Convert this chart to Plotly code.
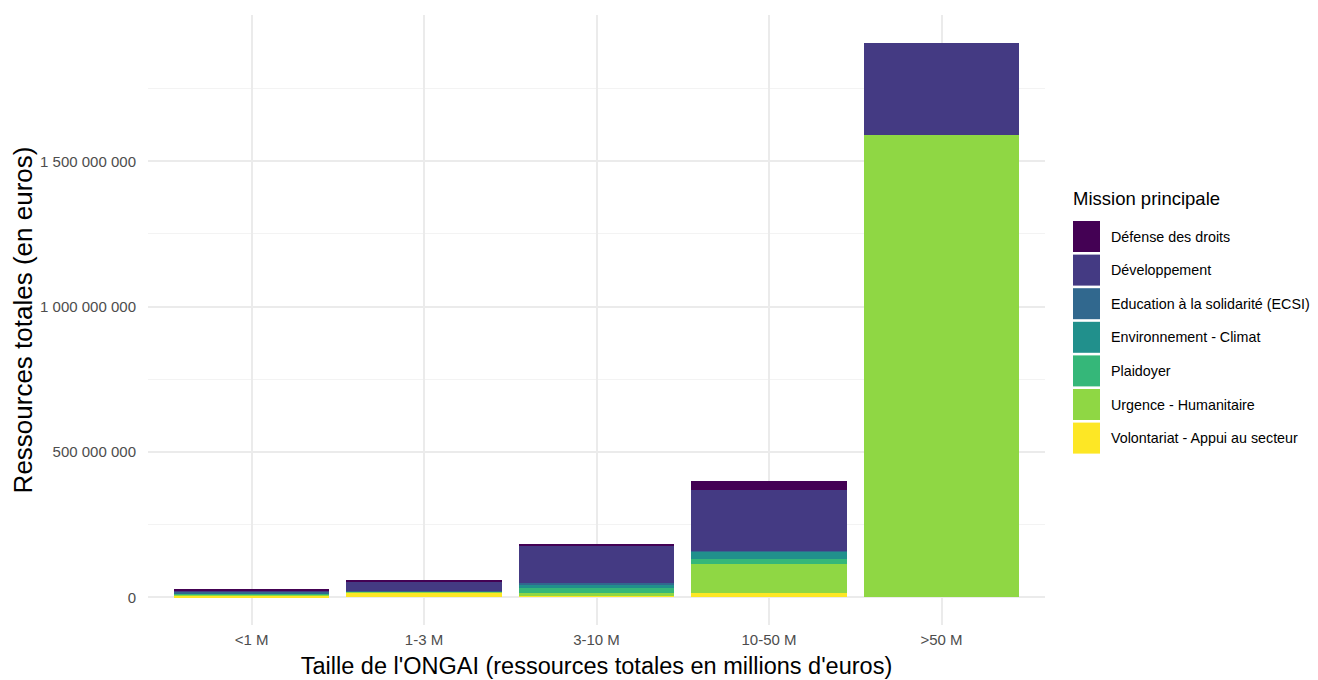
import plotly.graph_objects as go

categories = ["<1 M", "1-3 M", "3-10 M", "10-50 M", ">50 M"]
missions = [
    "Défense des droits",
    "Développement",
    "Education à la solidarité (ECSI)",
    "Environnement - Climat",
    "Plaidoyer",
    "Urgence - Humanitaire",
    "Volontariat - Appui au secteur",
]
colors = ["#440154", "#443A83", "#31688E", "#21908C", "#35B779", "#8FD744", "#FDE725"]

# values in euros, per mission, per size category
defense = [3.5e6, 3.5e6, 7e6, 31e6, 0]
developpement = [6e6, 31e6, 127e6, 210e6, 317e6]
ecsi = [5e6, 0.5e6, 7e6, 0.5e6, 0]
environnement = [2e6, 0.5e6, 11e6, 27.5e6, 0]
plaidoyer = [4e6, 2e6, 19.5e6, 14e6, 0]
urgence = [3e6, 2.5e6, 6e6, 103e6, 1591e6]
volontariat = [5e6, 16.5e6, 7e6, 13e6, 0]
series = [defense, developpement, ecsi, environnement, plaidoyer, urgence, volontariat]

ytick_vals = [0, 500e6, 1000e6, 1500e6]
ytick_text = ["0", "500 000 000", "1 000 000 000", "1 500 000 000"]
yminor_vals = [250e6, 750e6, 1250e6, 1750e6]

FONT = "Liberation Sans"
fig = go.Figure()
# ggplot stacks first level on top: add in reverse
for name, vals, col in reversed(list(zip(missions, series, colors))):
    fig.add_trace(go.Bar(x=categories, y=vals, name=name, marker=dict(color=col, line=dict(width=0)),
                         showlegend=False))

OFF = 8  # page body margin
W, H = 1318 - OFF, 680 - OFF
L, R, T, B = 148 - OFF, W - (1045 - OFF), 15 - OFF, H - (625 - OFF)
pw, ph = W - L - R, H - T - B

def px_x(x):
    return (x - OFF - L) / pw

def px_y(y):
    return (H - B - (y - OFF)) / ph

shapes = []
annotations = []
annotations.append(dict(x=px_x(1071), y=px_y(198), xref="paper", yref="paper", xanchor="left",
                        yanchor="middle", text="Mission principale", showarrow=False,
                        font=dict(family=FONT, size=18.5, color="#000000")))
for i, (name, col) in enumerate(zip(missions, colors)):
    top = 221 + 33.6 * i
    shapes.append(dict(type="rect", xref="paper", yref="paper", x0=px_x(1073), x1=px_x(1100),
                       y0=px_y(top + 31), y1=px_y(top), fillcolor=col, line=dict(width=0)))
    annotations.append(dict(x=px_x(1109), y=px_y(top + 15.5), xref="paper", yref="paper",
                            xanchor="left", yanchor="middle", text=name, showarrow=False,
                            font=dict(family=FONT, size=14.3, color="#000000")))

fig.update_layout(
    barmode="stack",
    bargap=0.1,
    width=W, height=H,
    margin=dict(l=L, r=R, t=T, b=B, autoexpand=False),
    plot_bgcolor="white", paper_bgcolor="white",
    font=dict(family=FONT, color="#000000"),
    shapes=shapes, annotations=annotations,
    showlegend=False,
)
fig.update_xaxes(
    range=[-0.6, 4.6],
    showgrid=True, gridcolor="#EBEBEB", gridwidth=1.5,
    tickfont=dict(family=FONT, size=15, color="#4D4D4D"),
    ticks="", ticklabelstandoff=4,
    title=dict(text="Taille de l'ONGAI (ressources totales en millions d'euros)",
               font=dict(family=FONT, size=23.5, color="#000000"), standoff=10),
    showline=False, zeroline=False,
)
fig.update_yaxes(
    range=[-95.4e6, 2003.4e6],
    tickmode="array", tickvals=ytick_vals, ticktext=ytick_text,
    showgrid=True, gridcolor="#EBEBEB", gridwidth=1.5,
    minor=dict(tickmode="array", tickvals=yminor_vals, showgrid=True, gridcolor="#F3F3F3", gridwidth=1, ticks=""),
    tickfont=dict(family=FONT, size=15, color="#4D4D4D"),
    ticks="", ticklabelstandoff=11,
    title=dict(text="Ressources totales (en euros)",
               font=dict(family=FONT, size=26, color="#000000"), standoff=6),
    showline=False, zeroline=False,
)

fig.write_html("out.html")
